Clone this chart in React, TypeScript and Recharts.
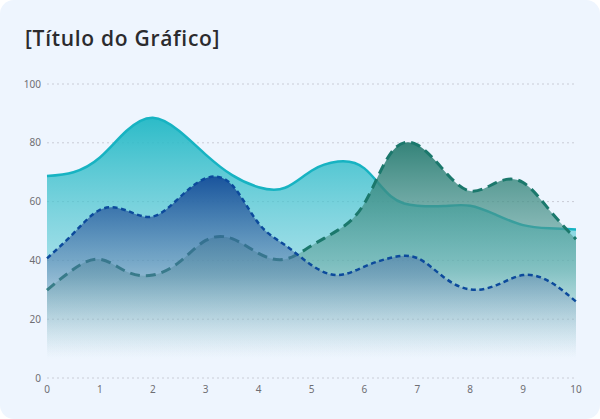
import React from "react";
import { ComposedChart, Area, XAxis, YAxis, CartesianGrid } from "recharts";

const xValues = [0, 0.5, 1, 1.5, 2, 2.5, 3, 3.5, 4, 4.5, 5, 5.5, 6, 6.5, 7, 7.5, 8, 8.5, 9, 9.5, 10];
const cyanValues = [68.7, 70, 75, 84, 88.5, 84, 76, 69, 64.9, 64.7, 70.5, 73.6, 71.3, 61.8, 58.6, 58.5, 58.6, 55.4, 52, 50.9, 50.5];
const tealValues = [29.9, 37, 40.4, 36.2, 35, 39.4, 46.8, 47.4, 42.4, 40.4, 45, 50.3, 59.4, 76.5, 79.3, 70.7, 63.6, 66.5, 66.5, 57.1, 47.2];
const blueValues = [40.7, 49.2, 57.2, 57, 54.9, 61.3, 67.9, 65.6, 52.6, 45.2, 38.4, 35, 37.9, 40.9, 40.8, 34.3, 30.1, 31.6, 35, 32.8, 26];
const xTicks = [0, 1, 2, 3, 4, 5, 6, 7, 8, 9, 10];
const yTicks = [0, 20, 40, 60, 80, 100];
const title = "[Título do Gráfico]";

const data = xValues.map((x, i) => ({
  x,
  cyan: cyanValues[i],
  teal: tealValues[i],
  blue: blueValues[i],
}));

const tickStyle = { fontSize: 10, fill: "#6e6e73", fontFamily: "'Noto Sans', sans-serif" };

export default function App() {
  return (
    <div style={{ position: "relative", width: 600, height: 419, background: "#ffffff" }}>
      <style>{`body{margin:0;}`}</style>
      <div
        style={{
          position: "absolute",
          left: 0,
          top: 0,
          width: 600,
          height: 419,
          borderRadius: 14,
          background: "#eef5fe",
        }}
      />
      <div
        style={{
          position: "absolute",
          left: 25,
          top: 24,
          fontFamily: "'Open Sans', sans-serif",
          fontWeight: 600,
          fontSize: 21,
          color: "#2b2b2e",
          letterSpacing: 0.7,
          whiteSpace: "nowrap",
        }}
      >
        {title}
      </div>
      <div style={{ position: "absolute", left: 0, top: 0 }}>
        <ComposedChart
          width={600}
          height={419}
          data={data}
          margin={{ top: 84, right: 24, bottom: 21, left: 0 }}
        >
          <defs>
            <linearGradient id="gCyan" x1="0" y1="0" x2="0" y2="1">
              <stop offset="0%" stopColor="#22b8c5" stopOpacity={0.95} />
              <stop offset="55%" stopColor="#5fcbd5" stopOpacity={0.55} />
              <stop offset="92%" stopColor="#a8e0e8" stopOpacity={0} />
            </linearGradient>
            <linearGradient id="gTeal" x1="0" y1="0" x2="0" y2="1">
              <stop offset="0%" stopColor="#2a7d72" stopOpacity={0.95} />
              <stop offset="55%" stopColor="#5fa39c" stopOpacity={0.5} />
              <stop offset="92%" stopColor="#a9cfcb" stopOpacity={0} />
            </linearGradient>
            <linearGradient id="gBlue" x1="0" y1="0" x2="0" y2="1">
              <stop offset="0%" stopColor="#164e9a" stopOpacity={0.95} />
              <stop offset="50%" stopColor="#5d7fae" stopOpacity={0.45} />
              <stop offset="90%" stopColor="#b8c6da" stopOpacity={0} />
            </linearGradient>
          </defs>
          <CartesianGrid vertical={false} stroke="#c9ccd6" strokeDasharray="2 3" />
          <XAxis
            dataKey="x"
            type="number"
            domain={[0, 10]}
            ticks={xTicks}
            axisLine={false}
            tickLine={false}
            tickSize={0}
            tickMargin={8}
            height={20}
            tick={tickStyle}
            interval={0}
          />
          <YAxis
            domain={[0, 100]}
            ticks={yTicks}
            axisLine={false}
            tickLine={false}
            tickSize={0}
            tickMargin={6}
            width={47}
            tick={tickStyle}
            interval={0}
          />
          <Area
            type="natural"
            dataKey="cyan"
            stroke="#17b3c2"
            strokeWidth={2.5}
            fill="url(#gCyan)"
            fillOpacity={1}
            dot={false}
            activeDot={false}
            isAnimationActive={false}
          />
          <Area
            type="natural"
            dataKey="teal"
            stroke="#1b786c"
            strokeWidth={3}
            strokeDasharray="10 6"
            fill="url(#gTeal)"
            fillOpacity={1}
            dot={false}
            activeDot={false}
            isAnimationActive={false}
          />
          <Area
            type="natural"
            dataKey="blue"
            stroke="#0c4a9c"
            strokeWidth={2.5}
            strokeDasharray="5 3.5"
            fill="url(#gBlue)"
            fillOpacity={1}
            dot={false}
            activeDot={false}
            isAnimationActive={false}
          />
        </ComposedChart>
      </div>
    </div>
  );
}
